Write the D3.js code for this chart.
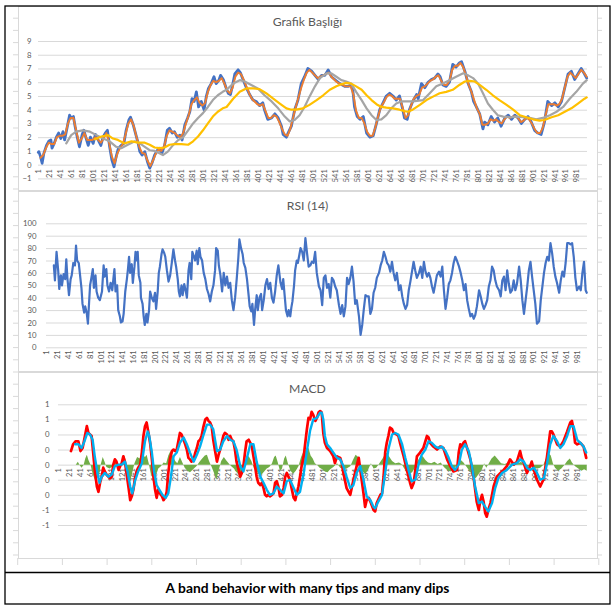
<!DOCTYPE html>
<html><head><meta charset="utf-8">
<script src="https://cdn.jsdelivr.net/npm/d3@7"></script>
<style>body{margin:0;background:#fff}svg{display:block}</style>
</head><body>
<svg id="c" width="614" height="606"></svg>
<script>
// ---------------- DATA ----------------
const categories = d3.range(1, 1001);
const priceTicks = [-1,0,1,2,3,4,5,6,7,8,9];
const rsiTicks = [0,10,20,30,40,50,60,70,80,90,100];
const macdTicks = [-0.8,-0.6,-0.4,-0.2,0,0.2,0.4,0.6,0.8];

// [category, value]
const price = [[1,0.9],[2,0.95],[5,0.6],[8,0.1],[11,0.8],[16,1.4],[20,1.7],[24,1.8],[26,1.2],[30,1.55],[34,2.0],[38,2.3],[42,1.9],[46,2.4],[49,1.8],[54,2.8],[58,3.6],[61,3.4],[65,3.5],[68,2.8],[72,2.0],[76,1.3],[81,2.2],[84,2.5],[89,1.8],[92,1.4],[96,2.0],[101,1.55],[105,2.2],[110,1.8],[115,1.4],[119,2.0],[123,2.3],[127,2.5],[131,1.3],[135,0.35],[139,-0.15],[143,0.6],[147,1.2],[152,1.4],[157,1.55],[161,2.5],[166,3.25],[169,3.45],[174,2.9],[178,2.3],[183,1.55],[186,0.95],[190,0.7],[195,0.95],[200,0.2],[204,-0.25],[208,0.1],[213,0.7],[218,1.05],[222,1.2],[226,0.8],[231,1.4],[236,2.5],[240,2.65],[245,2.3],[249,2.4],[254,2.0],[259,2.15],[263,1.8],[268,2.9],[273,3.4],[277,3.85],[281,4.8],[285,4.6],[289,5.3],[293,4.2],[298,4.6],[303,4.0],[307,4.95],[311,5.55],[316,5.9],[321,6.4],[325,5.9],[330,6.15],[333,6.5],[338,6.2],[343,5.6],[347,5.2],[351,5.1],[355,5.8],[359,6.6],[365,6.9],[369,6.7],[374,6.2],[380,5.6],[386,5.1],[392,4.7],[398,4.6],[404,4.3],[410,4.5],[413,4.0],[419,3.3],[426,3.4],[432,3.7],[438,3.4],[444,2.8],[447,2.2],[453,2.0],[456,2.3],[462,2.8],[468,4.0],[474,4.7],[480,5.9],[486,6.4],[492,7.0],[499,6.8],[505,6.5],[511,6.2],[517,6.5],[523,6.5],[529,6.9],[535,6.4],[541,6.2],[550,5.9],[559,5.7],[565,5.7],[571,5.8],[574,5.4],[577,4.2],[582,3.5],[587,3.3],[593,3.5],[599,2.3],[605,2.0],[611,2.1],[617,3.0],[623,4.0],[629,4.5],[635,5.0],[641,5.2],[647,5.0],[653,4.7],[659,5.0],[665,4.0],[668,3.4],[673,3.3],[677,4.0],[683,4.6],[690,5.1],[693,4.8],[699,5.9],[705,5.6],[711,6.0],[717,6.2],[723,6.3],[729,6.6],[733,6.4],[738,5.8],[744,5.7],[750,6.0],[756,7.3],[762,7.1],[768,7.4],[772,7.5],[778,6.8],[784,5.9],[790,5.3],[794,4.6],[799,4.2],[805,3.7],[811,2.6],[814,3.1],[820,2.9],[826,3.5],[832,3.1],[838,3.4],[844,2.8],[851,3.4],[857,3.6],[863,3.3],[869,3.6],[875,3.4],[881,3.0],[887,3.3],[893,3.5],[899,3.1],[905,2.5],[911,2.3],[917,2.2],[923,3.1],[929,4.6],[936,4.3],[942,4.5],[948,4.2],[954,4.6],[960,5.6],[966,6.6],[972,6.8],[978,6.2],[984,6.6],[990,7.0],[996,6.6],[1000,6.3]];

// short moving average, one value every 5 categories (5,10,...,1000)
const orangeStep = 5;
const orangeVals = [0.5,0.7,1.2,1.6,1.5,1.5,2.0,2.1,2.1,2.2,
3.0,3.4,3.4,2.5,1.6,1.9,2.3,1.8,1.8,1.8,
2.0,1.8,1.6,1.9,2.3,1.6,0.6,0.1,0.8,1.2,
1.5,2.2,3.0,3.3,2.8,2.0,1.3,0.85,0.8,0.3,
-0.1,0.3,0.8,1.1,1.0,1.3,2.1,2.5,2.4,2.3,
2.1,2.0,2.3,3.0,3.6,4.4,4.7,4.9,4.5,4.3,
4.5,5.3,5.8,6.1,6.0,6.1,6.3,5.9,5.4,5.2,
5.6,6.4,6.7,6.6,6.2,5.7,5.2,4.8,4.6,4.4,
4.3,4.4,3.9,3.4,3.4,3.6,3.5,3.1,2.6,2.2,
2.1,2.6,3.4,4.2,4.9,5.6,6.2,6.7,6.9,6.7,
6.5,6.3,6.4,6.5,6.6,6.7,6.4,6.2,6.0,5.9,
5.8,5.7,5.7,5.7,5.1,3.9,3.4,3.4,3.0,2.4,
2.1,2.1,2.7,3.5,4.2,4.5,4.9,5.1,5.0,4.8,
4.8,4.8,4.1,3.4,3.6,4.3,4.8,5.0,5.1,5.6,
5.7,5.9,6.1,6.2,6.4,6.5,6.1,5.8,5.8,6.1,
6.9,7.2,7.2,7.4,7.1,6.5,5.8,5.3,4.7,4.1,
3.7,2.9,2.9,3.0,3.3,3.2,3.3,3.1,3.0,3.3,
3.5,3.4,3.5,3.5,3.4,3.1,3.2,3.4,3.3,3.0,
2.6,2.3,2.3,2.7,3.6,4.4,4.4,4.4,4.3,4.4,
4.8,5.6,6.4,6.7,6.5,6.3,6.6,6.9,6.7,6.4];

const grey = [[52,1.55],[61,2.15],[70,2.4],[82,2.5],[95,2.4],[107,2.15],[119,1.9],[131,1.7],[143,1.3],[152,1.2],[164,1.45],[177,1.7],[186,1.55],[195,1.3],[204,1.05],[213,1.0],[220,0.87],[228,0.7],[237,0.95],[246,1.4],[256,1.8],[265,2.0],[274,2.5],[283,3.0],[292,3.4],[301,3.75],[310,4.2],[319,4.7],[328,5.05],[337,5.3],[344,5.45],[356,5.9],[368,6.15],[377,6.05],[389,5.8],[401,5.55],[413,5.05],[426,4.6],[438,4.1],[450,3.5],[459,3.15],[468,3.25],[477,3.6],[486,4.2],[495,4.95],[505,5.7],[514,6.3],[526,6.65],[535,6.65],[544,6.4],[553,6.15],[562,6.05],[571,5.9],[580,5.3],[590,4.7],[599,4.1],[608,3.6],[617,3.25],[626,3.3],[635,3.6],[644,4.1],[653,4.45],[662,4.6],[683,4.6],[702,4.7],[714,5.2],[726,5.7],[738,5.9],[750,6.15],[762,6.4],[775,6.65],[784,6.5],[793,6.3],[802,5.9],[811,5.2],[820,4.45],[829,4.0],[838,3.6],[848,3.5],[860,3.45],[872,3.5],[884,3.45],[896,3.4],[908,3.3],[920,3.4],[933,3.6],[945,3.85],[957,4.2],[969,4.8],[981,5.3],[993,5.9],[1000,6.15]];

const yellow = [[104,1.85],[116,2.05],[128,2.15],[137,1.9],[146,1.8],[158,1.55],[171,1.7],[183,1.6],[195,1.6],[204,1.45],[213,1.25],[222,1.2],[231,1.25],[240,1.45],[249,1.5],[262,1.5],[274,1.45],[283,1.7],[292,2.05],[301,2.5],[310,3.0],[319,3.5],[328,3.85],[337,4.1],[344,4.2],[356,4.8],[368,5.3],[380,5.55],[392,5.55],[404,5.5],[416,5.2],[429,4.8],[441,4.45],[453,4.1],[462,4.0],[471,4.0],[483,4.1],[495,4.35],[508,4.7],[520,5.05],[532,5.45],[544,5.7],[553,5.85],[562,5.95],[571,5.9],[580,5.7],[590,5.45],[599,5.05],[608,4.7],[617,4.4],[626,4.2],[635,4.15],[647,4.1],[659,4.0],[668,3.9],[674,3.85],[683,4.0],[696,4.35],[708,4.7],[720,4.95],[732,5.2],[744,5.3],[756,5.45],[768,5.8],[778,6.05],[787,6.1],[796,6.05],[805,5.8],[817,5.45],[829,5.05],[841,4.7],[854,4.35],[866,4.0],[878,3.6],[890,3.45],[902,3.3],[914,3.2],[923,3.25],[936,3.45],[948,3.6],[960,3.85],[972,4.1],[984,4.45],[996,4.8],[1000,4.9]];

const rsi = [[15,66],[17,54],[20,77],[23,62],[25,47],[28,58],[30,50],[33,59],[36,55],[38,71],[40,56],[43,42],[46,55],[48,58],[51,68],[54,66],[56,82],[58,70],[61,68],[63,60],[66,48],[68,35],[71,28],[73,33],[76,27],[78,19],[80,35],[82,50],[84,55],[87,63],[89,48],[92,58],[94,45],[97,40],[100,38],[104,45],[107,66],[109,57],[112,63],[114,50],[117,45],[120,52],[123,46],[125,55],[127,63],[129,45],[132,50],[134,30],[137,25],[139,20],[142,21],[144,27],[147,45],[150,55],[152,63],[154,73],[156,60],[159,67],[161,52],[164,65],[166,77],[168,70],[170,77],[172,58],[175,52],[176,40],[179,35],[181,25],[183,18],[186,27],[188,20],[191,30],[193,45],[196,40],[199,37],[202,44],[204,31],[207,45],[209,60],[211,65],[214,75],[216,79],[219,76],[221,73],[224,62],[227,53],[230,58],[233,68],[236,79],[239,70],[241,65],[244,55],[246,45],[248,41],[251,50],[253,42],[256,51],[259,45],[261,40],[264,62],[266,68],[269,55],[271,77],[274,73],[276,70],[279,78],[281,67],[284,80],[286,73],[289,70],[292,60],[295,55],[298,47],[301,43],[304,37],[307,45],[310,50],[313,62],[315,80],[318,78],[320,66],[323,58],[326,45],[329,60],[332,50],[335,57],[338,48],[341,52],[344,38],[347,30],[350,40],[353,55],[356,72],[358,87],[361,80],[364,75],[366,68],[369,64],[372,55],[375,42],[377,33],[380,29],[382,35],[385,18],[387,30],[390,42],[392,30],[395,40],[398,43],[400,30],[403,38],[406,50],[409,55],[412,47],[415,52],[418,40],[421,36],[424,45],[427,58],[430,66],[434,52],[437,47],[439,55],[442,40],[444,30],[447,25],[449,30],[452,25],[454,32],[456,37],[459,50],[461,62],[464,70],[466,68],[469,75],
[471,80],[474,77],[477,70],[480,88],[483,76],[486,65],[489,66],[492,69],[495,68],[498,77],[501,60],[505,49],[508,46],[511,34],[514,56],[517,58],[520,48],[523,51],[526,40],[529,56],[532,54],[535,49],[538,46],[542,34],[545,27],[548,34],[551,25],[554,33],[557,56],[560,51],[563,56],[566,65],[569,53],[572,35],[575,38],[579,25],[582,10],[585,18],[588,31],[591,42],[594,41],[597,41],[600,27],[603,31],[606,44],[609,48],[612,56],[616,60],[619,66],[622,70],[625,77],[628,73],[631,68],[634,66],[637,61],[640,69],[643,60],[646,54],[649,60],[653,46],[656,50],[659,41],[662,35],[665,31],[668,34],[671,46],[674,53],[677,61],[680,69],[683,62],[686,56],[690,60],[693,65],[696,56],[699,69],[702,61],[705,57],[708,60],[711,56],[714,49],[717,44],[720,51],[723,58],[727,61],[730,57],[733,65],[736,46],[739,31],[742,40],[745,51],[748,54],[751,60],[754,68],[757,73],[760,70],[764,65],[767,60],[770,54],[773,46],[776,51],[779,38],[782,31],[785,25],[788,27],[791,23],[794,26],[797,33],[801,46],[804,41],[807,35],[810,31],[813,34],[816,38],[819,49],[822,54],[825,65],[828,62],[831,54],[834,49],[838,46],[841,41],[844,54],[847,57],[850,46],[853,62],[856,51],[859,44],[862,46],[865,54],[868,46],[871,51],[875,65],[878,54],[881,38],[884,27],[887,38],[890,49],[893,62],[896,69],[899,57],[902,46],[905,35],[908,19],[912,21],[915,38],[918,49],[921,60],[924,68],[927,73],[930,70],[933,84],[936,76],[939,65],[942,57],[945,52],[949,44],[952,54],[955,61],[958,57],[961,68],[964,84],[967,84],[970,83],[973,84],[976,73],[979,56],[982,46],[986,49],[989,46],[992,60],[995,69],[998,46],[1000,44]];

const macd = [[25,0.18],[29,0.27],[34,0.31],[39,0.31],[43,0.18],[47,0.22],[52,0.4],[55,0.51],[58,0.42],[64,0.38],[67,0.16],[70,-0.07],[74,-0.29],[77,-0.36],[80,-0.24],[83,-0.16],[86,-0.04],[89,-0.09],[92,-0.13],[96,-0.16],[99,-0.18],[102,-0.16],[105,0],[108,0.07],[111,0.04],[115,-0.07],[118,-0.02],[121,0.02],[124,0.11],[127,0.04],[130,-0.11],[134,-0.31],[137,-0.47],[140,-0.42],[143,-0.33],[146,-0.18],[149,-0.09],[152,-0.04],[156,0],[159,0.16],[162,0.38],[165,0.51],[168,0.56],[171,0.44],[175,0.27],[178,0.07],[181,-0.16],[184,-0.33],[187,-0.44],[190,-0.33],[193,-0.38],[197,-0.42],[200,-0.47],[203,-0.44],[206,-0.36],[209,-0.11],[212,0.07],[216,0.18],[219,0.2],[222,0.18],[225,0.2],[228,0.31],[231,0.42],[234,0.4],[238,0.33],[241,0.27],[244,0.2],[247,0.09],[250,0.07],[253,0.04],[257,0.07],[260,0.16],[263,0.22],[266,0.31],[269,0.33],[272,0.38],[275,0.49],[279,0.6],[282,0.62],[285,0.58],[288,0.56],[291,0.51],[294,0.33],[297,0.2],[301,0.04],[304,0.13],[307,0.2],[310,0.29],[313,0.38],[316,0.42],[320,0.4],[323,0.33],[326,0.38],[329,0.33],[332,0.31],[335,0.2],[338,0.04],[342,-0.07],[345,-0.16],[348,-0.11],[351,-0.02],[354,0.16],[357,0.31],[361,0.33],[364,0.29],[367,0.24],[370,0.11],[373,-0.02],[376,-0.16],[379,-0.24],[383,-0.27],[386,-0.24],[389,-0.31],[392,-0.4],[395,-0.42],[398,-0.4],[401,-0.42],[405,-0.4],[408,-0.38],[411,-0.24],[414,-0.22],[417,-0.29],[420,-0.42],[424,-0.4],[427,-0.31],[430,-0.16],[433,-0.11],[436,-0.16],[439,-0.2],[442,-0.31],[446,-0.44],[449,-0.47],[452,-0.38],[455,-0.29],[458,-0.16],[461,-0.02],[465,0.11],[468,0.29],[471,0.47],[474,0.62],
[477,0.6],[480,0.7],[483,0.66],[487,0.58],[490,0.62],[493,0.69],[496,0.71],[499,0.69],[502,0.42],[505,0.29],[509,0.22],[515,0.18],[521,0.11],[524,0.02],[528,0.11],[534,0.09],[537,0.02],[540,-0.11],[546,-0.31],[553,-0.4],[559,-0.2],[565,-0.02],[569,0.09],[572,-0.07],[578,-0.38],[581,-0.56],[584,-0.47],[588,-0.44],[591,-0.49],[597,-0.6],[600,-0.62],[603,-0.51],[610,-0.4],[613,-0.38],[616,-0.16],[619,0.16],[622,0.29],[625,0.38],[628,0.49],[632,0.47],[635,0.42],[641,0.4],[644,0.38],[647,0.29],[654,0.11],[660,-0.07],[666,-0.24],[669,-0.31],[673,-0.24],[676,-0.07],[679,0.11],[685,0.16],[691,0.22],[698,0.38],[701,0.36],[704,0.29],[710,0.24],[717,0.2],[723,0.24],[729,0.22],[736,0.07],[742,-0.02],[748,-0.09],[755,-0.07],[758,0.16],[761,0.27],[764,0.24],[767,0.29],[770,0.31],[773,0.24],[780,0.07],[786,-0.16],[792,-0.49],[796,-0.6],[799,-0.47],[802,-0.4],[805,-0.49],[808,-0.64],[811,-0.69],[814,-0.6],[818,-0.51],[824,-0.29],[830,-0.16],[837,-0.11],[843,-0.07],[849,-0.02],[855,0.07],[862,0],[868,0.04],[874,0.18],[877,0.09],[881,0.02],[887,-0.11],[893,-0.02],[896,0.04],[900,-0.07],[906,-0.2],[912,-0.29],[918,-0.2],[925,0.11],[931,0.44],[934,0.44],[937,0.4],[944,0.27],[950,0.24],[956,0.31],[963,0.44],[969,0.56],[972,0.58],[975,0.47],[978,0.29],[982,0.27],[988,0.29],[994,0.24],[999,0.09]];

const signal = [[33,0.27],[39,0.27],[45,0.22],[50,0.3],[56,0.42],[61,0.4],[66,0.33],[70,0.11],[75,-0.11],[79,-0.24],[83,-0.16],[89,-0.11],[96,-0.16],[102,-0.13],[108,-0.02],[115,0],[121,0],[127,0.04],[132,-0.09],[137,-0.29],[141,-0.38],[146,-0.22],[152,-0.09],[159,0.02],[165,0.31],[170,0.44],[173,0.38],[178,0.16],[182,-0.09],[187,-0.27],[192,-0.33],[198,-0.4],[204,-0.44],[209,-0.38],[214,-0.16],[219,0.11],[225,0.16],[231,0.29],[238,0.36],[244,0.27],[250,0.16],[257,0.04],[263,0.13],[269,0.24],[275,0.38],[282,0.53],[288,0.53],[294,0.47],[301,0.18],[307,0.2],[313,0.31],[320,0.38],[326,0.33],[332,0.31],[338,0.2],[345,-0.02],[351,-0.09],[357,0.07],[364,0.27],[370,0.27],[376,0.04],[383,-0.16],[389,-0.24],[395,-0.33],[401,-0.4],[408,-0.38],[414,-0.29],[420,-0.33],[427,-0.38],[433,-0.22],[439,-0.2],[446,-0.31],[452,-0.4],[458,-0.36],[465,-0.11],[471,0.18],[477,0.45],[483,0.6],[490,0.62],[496,0.69],[499,0.69],[502,0.6],[505,0.38],[509,0.27],[515,0.22],[521,0.16],[528,0.09],[534,0.07],[540,-0.02],[546,-0.16],[553,-0.31],[559,-0.27],[565,-0.11],[572,-0.02],[578,-0.2],[584,-0.42],[591,-0.47],[597,-0.56],[600,-0.58],[606,-0.49],[613,-0.4],[619,-0.11],[625,0.2],[632,0.4],[638,0.42],[644,0.4],[651,0.27],[657,0.09],[663,-0.07],[669,-0.22],[676,-0.2],[682,0],[688,0.13],[695,0.2],[701,0.31],[707,0.29],[714,0.24],[720,0.22],[726,0.24],[733,0.18],[739,0.09],[745,-0.02],[751,-0.07],[758,0],[764,0.2],[770,0.27],[777,0.18],[783,-0.02],[789,-0.29],[796,-0.51],[802,-0.49],[808,-0.56],[814,-0.62],[821,-0.51],[827,-0.31],[833,-0.18],[840,-0.11],[849,-0.07],[859,0],[868,0.02],[874,0.07],[881,0.04],[887,-0.04],[893,-0.07],[900,-0.04],[906,-0.11],[912,-0.2],[919,-0.18],[925,0.02],[931,0.27],[937,0.38],[944,0.31],[950,0.22],[956,0.27],[963,0.38],[969,0.51],[975,0.51],[982,0.33],[988,0.29],[994,0.24],[999,0.16]];

const hist = [[34,0],[38,0.04],[41,0],[45,-0.04],[49,0],[52,0.08],[55,0.13],[58,0.06],[62,0],[66,-0.12],[70,-0.2],[74,-0.18],[78,-0.15],[81,0],[85,0.1],[88,0.05],[92,-0.03],[98,-0.05],[104,-0.02],[108,0.05],[112,0.02],[118,-0.02],[123,0.08],[126,0.12],[129,0.04],[133,-0.12],[137,-0.22],[141,-0.1],[145,0.02],[150,0.1],[155,0.08],[160,0.13],[165,0.1],[168,0.13],[172,0.02],[176,-0.12],[180,-0.18],[185,-0.15],[190,-0.05],[195,-0.02],[200,0.03],[205,0.02],[209,0.12],[213,0.18],[217,0.12],[222,0.05],[226,0.02],[231,0.1],[235,0.04],[240,-0.04],[245,-0.08],[250,-0.1],[256,-0.06],[262,-0.02],[268,0.04],[273,0.08],[278,0.12],[282,0.13],[286,0.05],[291,-0.03],[296,-0.12],[300,-0.2],[304,-0.08],[309,0.05],[314,0.1],[318,0.06],[323,0.02],[328,-0.02],[333,-0.05],[338,-0.1],[343,-0.13],[348,-0.08],[352,0.02],[357,0.1],[361,0.11],[366,0.05],[371,-0.05],[377,-0.1],[383,-0.15],[389,-0.1],[395,-0.05],[400,-0.03],[405,0.02],[409,0.1],[412,0.12],[416,0.03],[420,-0.08],[424,-0.05],[428,0.08],[431,0.12],[435,0.02],[440,-0.08],[445,-0.12],[450,-0.08],[455,-0.02],[460,0.1],[465,0.18],[470,0.2],[474,0.22],[478,0.12],[482,0.08],[486,0.02],[490,0],[495,-0.04],[500,-0.06],[505,-0.09],[510,-0.1],[515,-0.06],[521,-0.03],[528,0.02],[534,-0.04],[540,-0.06],[546,-0.05],[553,-0.02],[558,0.06],[563,0.13],[568,0.1],[572,-0.04],[577,-0.1],[582,-0.12],[587,-0.06],[592,0.02],[597,-0.05],[602,-0.04],[608,0.02],[614,0.08],[618,0.13],[622,0.16],[627,0.1],[632,0.05],[638,0.02],[645,0.03],[650,0.01],[655,-0.05],[660,-0.1],[665,-0.12],[670,-0.1],[675,-0.04],[680,0.05],[685,0.1],[690,0.11],[695,0.06],[700,0.03],[706,0.02],[712,0.04],[718,0.01],[724,0.03],[730,-0.03],[736,-0.07],[742,-0.09],[748,-0.06],[753,-0.02],[758,0.04],[762,0.06],[767,0.03],[772,-0.02],[778,-0.08],[784,-0.14],[790,-0.18],[796,-0.12],[802,-0.06],[806,0.02],[810,-0.04],[815,0.02],[820,0.08],[826,0.12],[832,0.07],[838,0.02],[845,0.01],[852,0.03],[858,0.01],[864,0.04],[870,0.02],[876,0.04],[882,-0.01],[888,-0.03],[894,-0.01],[900,-0.04],[906,-0.05],[912,-0.04],[918,0],[924,0.1],[928,0.15],[932,0.12],[936,0.02],[940,-0.04],[946,-0.08],[952,-0.05],[958,0],[963,0.05],[968,0.08],[972,0.03],[978,-0.02],[984,-0.05],[990,-0.08],[995,-0.06],[1000,-0.08]];

const titles = ["Grafik Başlığı", "RSI (14)", "MACD"];
const caption = "A band behavior with many tips and many dips";

// ---------------- DRAW ----------------
const svg = d3.select('#c');
const FONT = 'Lato, "Noto Sans", sans-serif';
const GRID = '#D9D9D9', TXT = '#595959';

svg.append('rect').attr('width',614).attr('height',606).attr('fill','#fff');

// spreadsheet cell lines peeking around the charts
const rowYs = d3.range(45).map(k => 18.2 + 12.2*k);
const colXs = d3.range(14).map(k => 17.7 + 44.7*k);
svg.append('g').selectAll('line').data(rowYs).join('line')
  .attr('x1',13).attr('x2',18).attr('y1',d=>d).attr('y2',d=>d).attr('stroke',GRID);
svg.append('g').selectAll('line').data(rowYs).join('line')
  .attr('x1',597).attr('x2',602).attr('y1',d=>d).attr('y2',d=>d).attr('stroke',GRID);
svg.append('g').selectAll('line').data(colXs).join('line')
  .attr('x1',d=>d).attr('x2',d=>d).attr('y1',558).attr('y2',565).attr('stroke',GRID);

function panel(p){
  const g = svg.append('g');
  g.append('rect').attr('x',p.box[0]+0.5).attr('y',p.box[1]+0.5).attr('width',p.box[2]).attr('height',p.box[3])
    .attr('fill','#fff').attr('stroke',GRID);
  const x = d3.scaleLinear().domain([0.5,1000.5]).range([p.x0,p.x1]);
  const y = d3.scaleLinear().domain([p.ticks[0], p.ticks[p.ticks.length-1]]).range([p.yb,p.yt]);
  // gridlines + y labels
  const ya = g.append('g').attr('transform',`translate(${p.x0},0)`)
    .call(d3.axisLeft(y).tickValues(p.ticks).tickSize(-(p.x1-p.x0)).tickPadding(p.x0-p.lx).tickFormat(p.fmt));
  ya.select('.domain').remove();
  ya.selectAll('.tick line').attr('stroke',GRID);
  ya.selectAll('text').attr('fill',TXT).style('font-family',FONT).style('font-size','7.8px');
  // category labels
  const xa = g.append('g').attr('transform',`translate(0,${y(0)})`)
    .call(d3.axisBottom(x).tickValues(categories.filter(c => (c-1)%20===0)).tickSize(0).tickFormat(d3.format('d')));
  xa.select('.domain').remove();
  xa.selectAll('text').attr('transform','rotate(-90)').attr('text-anchor','end')
    .attr('x',-p.xpad).attr('y',0).attr('dy','0.35em')
    .attr('fill',TXT).style('font-family',FONT).style('font-size','7.6px');
  // title
  g.append('text').attr('x',307.5).attr('y',p.ty).attr('text-anchor','middle')
    .attr('fill',TXT).style('font-family',FONT).style('font-size','12.2px').text(p.title);
  return {g,x,y};
}

function drawLine(P, data, color, w){
  P.g.append('path').datum(data)
    .attr('d', d3.line().x(d=>P.x(d[0])).y(d=>P.y(d[1])))
    .attr('fill','none').attr('stroke',color).attr('stroke-width',w)
    .attr('stroke-linejoin','round').attr('stroke-linecap','round');
}

// Panel 1 : price
const P1 = panel({box:[18,6,579,184], x0:38, x1:587, yt:41, yb:178.4, ticks:priceTicks, fmt:d3.format('d'),
  lx:31.5, xpad:4.5, ty:25.5, title:titles[0]});
const orange = orangeVals.map((v,k) => [orangeStep*(k+1), v]);
drawLine(P1, price, '#4472C4', 2.8);
drawLine(P1, orange, '#ED7D31', 1.9);
drawLine(P1, grey, '#A5A5A5', 2.2);
drawLine(P1, yellow, '#FFC000', 2.2);

// Panel 2 : RSI
const P2 = panel({box:[18,191,579,180], x0:46, x1:587, yt:223.3, yb:347.3, ticks:rsiTicks, fmt:d3.format('d'),
  lx:36.5, xpad:3, ty:209.5, title:titles[1]});
drawLine(P2, rsi, '#4472C4', 2.2);

// Panel 3 : MACD
const P3 = panel({box:[18,372,579,186], x0:58, x1:587, yt:404.3, yb:525, ticks:macdTicks,
  fmt:d => String(Math.round(d) === 0 ? 0 : Math.round(d)), lx:49.5, xpad:3.5, ty:392.5, title:titles[2]});
P3.g.append('path').datum(hist)
  .attr('d', d3.area().x(d=>P3.x(d[0])).y0(P3.y(0)).y1(d=>P3.y(d[1])))
  .attr('fill','#70AD47');
drawLine(P3, macd, '#FF0000', 2.7);
drawLine(P3, signal, '#00B0F0', 2.4);

// outer frame, caption row
svg.append('rect').attr('x',5).attr('y',6).attr('width',605).attr('height',598)
  .attr('fill','none').attr('stroke','#000').attr('stroke-width',1.3);
svg.append('line').attr('x1',5).attr('x2',610).attr('y1',572.5).attr('y2',572.5).attr('stroke','#000').attr('stroke-width',1.3);
svg.append('text').attr('x',307.5).attr('y',593).attr('text-anchor','middle')
  .style('font-family',FONT).style('font-weight','bold').style('font-size','13.8px').attr('fill','#000').text(caption);
</script>
</body></html>
